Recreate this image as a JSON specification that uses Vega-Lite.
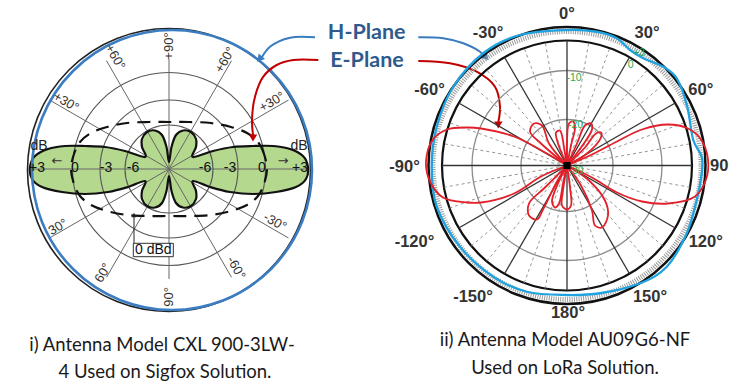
{
"$schema":"https://vega.github.io/schema/vega-lite/v6.json",
"width":730,"height":386,"autosize":"none","padding":0,"background":"#ffffff",
"config":{"view":{"stroke":null}},
"datasets":{
"green":[{"i":1,"x":1.39,"y":0.02},{"i":2,"x":1.34,"y":0.13},{"i":3,"x":1.21,"y":0.2},{"i":4,"x":1.04,"y":0.23},{"i":5,"x":0.84,"y":0.23},{"i":6,"x":0.64,"y":0.22},{"i":7,"x":0.44,"y":0.18},{"i":8,"x":0.24,"y":0.12},{"i":9,"x":0.27,"y":0.22},{"i":10,"x":0.27,"y":0.3},{"i":11,"x":0.22,"y":0.37},{"i":12,"x":0.14,"y":0.385},{"i":13,"x":0.07,"y":0.34},{"i":14,"x":0.025,"y":0.22},{"i":15,"x":0,"y":0.07},{"i":16,"x":-0.025,"y":0.22},{"i":17,"x":-0.07,"y":0.34},{"i":18,"x":-0.14,"y":0.385},{"i":19,"x":-0.22,"y":0.37},{"i":20,"x":-0.27,"y":0.3},{"i":21,"x":-0.27,"y":0.22},{"i":22,"x":-0.24,"y":0.12},{"i":23,"x":-0.44,"y":0.18},{"i":24,"x":-0.64,"y":0.22},{"i":25,"x":-0.84,"y":0.23},{"i":26,"x":-1.04,"y":0.23},{"i":27,"x":-1.21,"y":0.2},{"i":28,"x":-1.34,"y":0.13},{"i":29,"x":-1.39,"y":0.02},{"i":30,"x":-1.37,"y":-0.1},{"i":31,"x":-1.27,"y":-0.18},{"i":32,"x":-1.07,"y":-0.23},{"i":33,"x":-0.84,"y":-0.25},{"i":34,"x":-0.61,"y":-0.23},{"i":35,"x":-0.41,"y":-0.18},{"i":36,"x":-0.24,"y":-0.12},{"i":37,"x":-0.27,"y":-0.22},{"i":38,"x":-0.27,"y":-0.3},{"i":39,"x":-0.22,"y":-0.37},{"i":40,"x":-0.14,"y":-0.385},{"i":41,"x":-0.07,"y":-0.34},{"i":42,"x":-0.025,"y":-0.22},{"i":43,"x":0,"y":-0.07},{"i":44,"x":0.025,"y":-0.22},{"i":45,"x":0.07,"y":-0.34},{"i":46,"x":0.14,"y":-0.385},{"i":47,"x":0.22,"y":-0.37},{"i":48,"x":0.27,"y":-0.3},{"i":49,"x":0.27,"y":-0.22},{"i":50,"x":0.24,"y":-0.12},{"i":51,"x":0.41,"y":-0.18},{"i":52,"x":0.61,"y":-0.23},{"i":53,"x":0.84,"y":-0.25},{"i":54,"x":1.07,"y":-0.23},{"i":55,"x":1.27,"y":-0.18},{"i":56,"x":1.37,"y":-0.1}],
"dashed":[{"i":1,"x":0.98,"y":0},{"i":2,"x":0.95,"y":0.15},{"i":3,"x":0.89,"y":0.27},{"i":4,"x":0.78,"y":0.36},{"i":5,"x":0.62,"y":0.42},{"i":6,"x":0.42,"y":0.46},{"i":7,"x":0.2,"y":0.47},{"i":8,"x":0,"y":0.47},{"i":9,"x":-0.2,"y":0.47},{"i":10,"x":-0.42,"y":0.46},{"i":11,"x":-0.62,"y":0.42},{"i":12,"x":-0.78,"y":0.36},{"i":13,"x":-0.89,"y":0.27},{"i":14,"x":-0.95,"y":0.15},{"i":15,"x":-0.98,"y":0},{"i":16,"x":-0.95,"y":-0.15},{"i":17,"x":-0.89,"y":-0.27},{"i":18,"x":-0.78,"y":-0.36},{"i":19,"x":-0.62,"y":-0.42},{"i":20,"x":-0.42,"y":-0.46},{"i":21,"x":-0.2,"y":-0.47},{"i":22,"x":0,"y":-0.47},{"i":23,"x":0.2,"y":-0.47},{"i":24,"x":0.42,"y":-0.46},{"i":25,"x":0.62,"y":-0.42},{"i":26,"x":0.78,"y":-0.36},{"i":27,"x":0.89,"y":-0.27},{"i":28,"x":0.95,"y":-0.15}],
"hplane":[{"i":1,"x":0,"y":1.084},{"i":2,"x":0.238,"y":1.07},{"i":3,"x":0.398,"y":1.018},{"i":4,"x":0.504,"y":0.924},{"i":5,"x":0.61,"y":0.858},{"i":6,"x":0.77,"y":0.79},{"i":7,"x":0.878,"y":0.698},{"i":8,"x":0.96,"y":0.48},{"i":9,"x":1.01,"y":0.204},{"i":10,"x":1.078,"y":0.07},{"i":11,"x":1.078,"y":-0.062},{"i":12,"x":1.038,"y":-0.276},{"i":13,"x":0.958,"y":-0.542},{"i":14,"x":0.798,"y":-0.81},{"i":15,"x":0.584,"y":-0.942},{"i":16,"x":0.264,"y":-1.022},{"i":17,"x":-0.01,"y":-1.036},{"i":18,"x":-0.322,"y":-1.01},{"i":19,"x":-0.59,"y":-0.89},{"i":20,"x":-0.856,"y":-0.65},{"i":21,"x":-1.042,"y":-0.33},{"i":22,"x":-1.082,"y":-0.01},{"i":23,"x":-1.042,"y":0.31},{"i":24,"x":-0.91,"y":0.63},{"i":25,"x":-0.67,"y":0.898},{"i":26,"x":-0.376,"y":1.044}],
"eplane":[
{"p":"R","i":1,"x":0,"y":0},{"p":"R","i":2,"x":0.2,"y":0.088},{"p":"R","i":3,"x":0.4,"y":0.192},{"p":"R","i":4,"x":0.6,"y":0.288},{"p":"R","i":5,"x":0.808,"y":0.328},{"p":"R","i":6,"x":0.968,"y":0.296},{"p":"R","i":7,"x":1.072,"y":0.208},{"p":"R","i":8,"x":1.128,"y":0.048},{"p":"R","i":9,"x":1.112,"y":-0.112},{"p":"R","i":10,"x":1.024,"y":-0.248},{"p":"R","i":11,"x":0.808,"y":-0.304},{"p":"R","i":12,"x":0.6,"y":-0.288},{"p":"R","i":13,"x":0.4,"y":-0.216},{"p":"R","i":14,"x":0.2,"y":-0.096},{"p":"R","i":15,"x":0,"y":0},
{"p":"L","i":1,"x":0,"y":0},{"p":"L","i":2,"x":-0.16,"y":0.096},{"p":"L","i":3,"x":-0.424,"y":0.232},{"p":"L","i":4,"x":-0.688,"y":0.296},{"p":"L","i":5,"x":-0.8,"y":0.304},{"p":"L","i":6,"x":-0.96,"y":0.288},{"p":"L","i":7,"x":-1.072,"y":0.208},{"p":"L","i":8,"x":-1.128,"y":0.032},{"p":"L","i":9,"x":-1.096,"y":-0.128},{"p":"L","i":10,"x":-0.992,"y":-0.256},{"p":"L","i":11,"x":-0.8,"y":-0.296},{"p":"L","i":12,"x":-0.688,"y":-0.296},{"p":"L","i":13,"x":-0.424,"y":-0.224},{"p":"L","i":14,"x":-0.208,"y":-0.088},{"p":"L","i":15,"x":0,"y":0},
{"p":"U1","i":1,"x":0,"y":0},{"p":"U1","i":2,"x":-0.208,"y":0.176},{"p":"U1","i":3,"x":-0.296,"y":0.272},{"p":"U1","i":4,"x":-0.264,"y":0.336},{"p":"U1","i":5,"x":-0.2,"y":0.32},{"p":"U1","i":6,"x":-0.144,"y":0.176},{"p":"U1","i":7,"x":0,"y":0},
{"p":"U2","i":1,"x":0,"y":0},{"p":"U2","i":2,"x":-0.072,"y":0.176},{"p":"U2","i":3,"x":-0.088,"y":0.264},{"p":"U2","i":4,"x":-0.056,"y":0.28},{"p":"U2","i":5,"x":-0.04,"y":0.24},{"p":"U2","i":6,"x":-0.024,"y":0.144},{"p":"U2","i":7,"x":0,"y":0},
{"p":"U3","i":1,"x":0,"y":0},{"p":"U3","i":2,"x":0,"y":0.2},{"p":"U3","i":3,"x":0.016,"y":0.336},{"p":"U3","i":4,"x":0.048,"y":0.352},{"p":"U3","i":5,"x":0.064,"y":0.304},{"p":"U3","i":6,"x":0.032,"y":0.16},{"p":"U3","i":7,"x":0,"y":0},
{"p":"U4","i":1,"x":0,"y":0},{"p":"U4","i":2,"x":0.08,"y":0.176},{"p":"U4","i":3,"x":0.144,"y":0.32},{"p":"U4","i":4,"x":0.192,"y":0.336},{"p":"U4","i":5,"x":0.2,"y":0.288},{"p":"U4","i":6,"x":0.112,"y":0.144},{"p":"U4","i":7,"x":0,"y":0},
{"p":"U5","i":1,"x":0,"y":0},{"p":"U5","i":2,"x":0.144,"y":0.144},{"p":"U5","i":3,"x":0.232,"y":0.256},{"p":"U5","i":4,"x":0.272,"y":0.264},{"p":"U5","i":5,"x":0.272,"y":0.224},{"p":"U5","i":6,"x":0.16,"y":0.096},{"p":"U5","i":7,"x":0,"y":0},
{"p":"D1","i":1,"x":0,"y":0},{"p":"D1","i":2,"x":-0.176,"y":-0.176},{"p":"D1","i":3,"x":-0.304,"y":-0.304},{"p":"D1","i":4,"x":-0.304,"y":-0.4},{"p":"D1","i":5,"x":-0.24,"y":-0.432},{"p":"D1","i":6,"x":-0.192,"y":-0.352},{"p":"D1","i":7,"x":-0.08,"y":-0.128},{"p":"D1","i":8,"x":0,"y":0},
{"p":"D2","i":1,"x":0,"y":0},{"p":"D2","i":2,"x":-0.072,"y":-0.144},{"p":"D2","i":3,"x":-0.12,"y":-0.288},{"p":"D2","i":4,"x":-0.096,"y":-0.336},{"p":"D2","i":5,"x":-0.064,"y":-0.304},{"p":"D2","i":6,"x":-0.032,"y":-0.144},{"p":"D2","i":7,"x":0,"y":0},
{"p":"D3","i":1,"x":0,"y":0},{"p":"D3","i":2,"x":-0.032,"y":-0.2},{"p":"D3","i":3,"x":-0.04,"y":-0.32},{"p":"D3","i":4,"x":0,"y":-0.352},{"p":"D3","i":5,"x":0.032,"y":-0.32},{"p":"D3","i":6,"x":0.024,"y":-0.176},{"p":"D3","i":7,"x":0,"y":0},
{"p":"D4","i":1,"x":0,"y":0},{"p":"D4","i":2,"x":0.112,"y":-0.16},{"p":"D4","i":3,"x":0.2,"y":-0.36},{"p":"D4","i":4,"x":0.224,"y":-0.48},{"p":"D4","i":5,"x":0.28,"y":-0.496},{"p":"D4","i":6,"x":0.328,"y":-0.4},{"p":"D4","i":7,"x":0.304,"y":-0.28},{"p":"D4","i":8,"x":0.176,"y":-0.12},{"p":"D4","i":9,"x":0,"y":0}
]
},
"resolve":{"scale":{"x":"independent","y":"independent","size":"independent"}},
"layer":[
{"layer":[
{"data":{"name":"green"},"mark":{"type":"line","interpolate":"cardinal-closed","fill":"#b5d88f","strokeWidth":0},"encoding":{"x":{"field":"x","type":"quantitative","scale":{"domain":[-1.69,5.61],"nice":false,"zero":false},"axis":null},"y":{"field":"y","type":"quantitative","scale":{"domain":[-2.17,1.69],"nice":false,"zero":false},"axis":null},"order":{"field":"i","type":"quantitative"}}},
{"data":{"values":[{"x":0,"y":0,"r":0.44},{"x":0,"y":0,"r":0.69},{"x":0,"y":0,"r":0.965}]},"mark":{"type":"point","shape":"circle","filled":false,"color":"#555555","strokeWidth":1.1,"opacity":1},"encoding":{"x":{"field":"x","type":"quantitative"},"y":{"field":"y","type":"quantitative"},"size":{"field":"r","type":"quantitative","scale":{"type":"pow","exponent":2,"domain":[0,2],"range":[0,160000]},"legend":null}}},
{"data":{"values":[{"x":-1.38,"y":0,"x2":1.38,"y2":0},{"x":0,"y":-1.1,"x2":0,"y2":1.1},{"x":-1.195,"y":-0.69,"x2":1.195,"y2":0.69},{"x":-1.195,"y":0.69,"x2":1.195,"y2":-0.69},{"x":-0.625,"y":-1.083,"x2":0.625,"y2":1.083},{"x":-0.625,"y":1.083,"x2":0.625,"y2":-1.083}]},"mark":{"type":"rule","color":"#666666","strokeWidth":1},"encoding":{"x":{"field":"x","type":"quantitative"},"y":{"field":"y","type":"quantitative"},"x2":{"field":"x2"},"y2":{"field":"y2"}}},
{"data":{"name":"green"},"mark":{"type":"line","interpolate":"cardinal-closed","color":"#111111","strokeWidth":2.2},"encoding":{"x":{"field":"x","type":"quantitative"},"y":{"field":"y","type":"quantitative"},"order":{"field":"i","type":"quantitative"}}},
{"data":{"name":"dashed"},"mark":{"type":"line","interpolate":"cardinal-closed","color":"#111111","strokeWidth":2.2,"strokeDash":[13,8]},"encoding":{"x":{"field":"x","type":"quantitative"},"y":{"field":"y","type":"quantitative"},"order":{"field":"i","type":"quantitative"}}},
{"data":{"values":[{"x":0,"y":-0.01,"r":1.415}]},"mark":{"type":"point","shape":"circle","filled":false,"color":"#222222","strokeWidth":1.6,"opacity":1},"encoding":{"x":{"field":"x","type":"quantitative"},"y":{"field":"y","type":"quantitative"},"size":{"field":"r","type":"quantitative"}}},
{"data":{"values":[{"x":0.03,"y":-0.01,"r":1.4}]},"mark":{"type":"point","shape":"circle","filled":false,"color":"#3b7dc0","strokeWidth":2.6,"opacity":1},"encoding":{"x":{"field":"x","type":"quantitative"},"y":{"field":"y","type":"quantitative"},"size":{"field":"r","type":"quantitative"}}},
{"data":{"values":[{"t":"+3","x":-1.32,"y":0.01},{"t":"0","x":-0.94,"y":0.01},{"t":"-3","x":-0.63,"y":0.01},{"t":"-6","x":-0.36,"y":0.01},{"t":"-6","x":0.36,"y":0.01},{"t":"-3","x":0.61,"y":0.01},{"t":"0","x":0.93,"y":0.01},{"t":"+3","x":1.31,"y":0.01}]},"mark":{"type":"text","font":"Liberation Sans","fontSize":14,"color":"#111111","baseline":"middle"},"encoding":{"x":{"field":"x","type":"quantitative"},"y":{"field":"y","type":"quantitative"},"text":{"field":"t"}}},
{"data":{"values":[{"t":"dB","x":-1.3,"y":0.23},{"t":"dB","x":1.3,"y":0.23}]},"mark":{"type":"text","font":"Liberation Sans","fontSize":14,"color":"#222222","baseline":"middle"},"encoding":{"x":{"field":"x","type":"quantitative"},"y":{"field":"y","type":"quantitative"},"text":{"field":"t"}}},
{"data":{"values":[{"t":"←","x":-1.12,"y":0.08},{"t":"→","x":1.14,"y":0.08}]},"mark":{"type":"text","font":"DejaVu Sans","fontSize":13,"color":"#333333","baseline":"middle"},"encoding":{"x":{"field":"x","type":"quantitative"},"y":{"field":"y","type":"quantitative"},"text":{"field":"t"}}},
{"data":{"values":[{"t":"+90°","x":0,"y":1.23},{"t":"90°","x":0,"y":-1.28}]},"mark":{"type":"text","font":"Liberation Sans","fontSize":13,"color":"#333333","baseline":"middle","angle":270},"encoding":{"x":{"field":"x","type":"quantitative"},"y":{"field":"y","type":"quantitative"},"text":{"field":"t"}}},
{"data":{"values":[{"t":"+60°","x":-0.54,"y":1.12},{"t":"-60°","x":0.67,"y":-0.99}]},"mark":{"type":"text","font":"Liberation Sans","fontSize":13,"color":"#333333","baseline":"middle","angle":60},"encoding":{"x":{"field":"x","type":"quantitative"},"y":{"field":"y","type":"quantitative"},"text":{"field":"t"}}},
{"data":{"values":[{"t":"+60°","x":0.56,"y":1.09},{"t":"60°","x":-0.66,"y":-1.04}]},"mark":{"type":"text","font":"Liberation Sans","fontSize":13,"color":"#333333","baseline":"middle","angle":300},"encoding":{"x":{"field":"x","type":"quantitative"},"y":{"field":"y","type":"quantitative"},"text":{"field":"t"}}},
{"data":{"values":[{"t":"+30°","x":-1.03,"y":0.67},{"t":"-30°","x":1.06,"y":-0.53}]},"mark":{"type":"text","font":"Liberation Sans","fontSize":13,"color":"#333333","baseline":"middle","angle":30},"encoding":{"x":{"field":"x","type":"quantitative"},"y":{"field":"y","type":"quantitative"},"text":{"field":"t"}}},
{"data":{"values":[{"t":"+30°","x":1.03,"y":0.67},{"t":"30°","x":-1.11,"y":-0.58}]},"mark":{"type":"text","font":"Liberation Sans","fontSize":13,"color":"#333333","baseline":"middle","angle":330},"encoding":{"x":{"field":"x","type":"quantitative"},"y":{"field":"y","type":"quantitative"},"text":{"field":"t"}}},
{"data":{"values":[{"x":-0.357,"x2":0.043,"y":-0.743,"y2":-0.877}]},"mark":{"type":"rect","fill":"#ffffff","stroke":"#333333","strokeWidth":1},"encoding":{"x":{"field":"x","type":"quantitative"},"y":{"field":"y","type":"quantitative"},"x2":{"field":"x2"},"y2":{"field":"y2"}}},
{"data":{"values":[{"t":"0 dBd","x":-0.157,"y":-0.81}]},"mark":{"type":"text","font":"Liberation Sans","fontSize":14,"color":"#111111","baseline":"middle"},"encoding":{"x":{"field":"x","type":"quantitative"},"y":{"field":"y","type":"quantitative"},"text":{"field":"t"}}},
{"data":{"values":[{"x":-0.35,"y":-0.743,"x2":-0.35,"y2":-0.47}]},"mark":{"type":"rule","color":"#222222","strokeWidth":1},"encoding":{"x":{"field":"x","type":"quantitative"},"y":{"field":"y","type":"quantitative"},"x2":{"field":"x2"},"y2":{"field":"y2"}}},
{"data":{"values":[{"x":-0.35,"y":-0.46}]},"mark":{"type":"point","shape":"triangle-up","filled":true,"color":"#222222","size":25,"opacity":1},"encoding":{"x":{"field":"x","type":"quantitative"},"y":{"field":"y","type":"quantitative"}}},
{"data":{"values":[{"t":"H-Plane","x":1.977,"y":1.36},{"t":"E-Plane","x":1.98,"y":1.08}]},"mark":{"type":"text","font":"Lato","fontWeight":"bold","fontSize":21.5,"color":"#2f5b8c","baseline":"middle"},"encoding":{"x":{"field":"x","type":"quantitative"},"y":{"field":"y","type":"quantitative"},"text":{"field":"t"}}},
{"data":{"values":[{"p":"a","i":1,"x":1.46,"y":1.317},{"p":"a","i":2,"x":1.21,"y":1.313},{"p":"a","i":3,"x":1.01,"y":1.223},{"p":"a","i":4,"x":0.93,"y":1.12},{"p":"b","i":1,"x":2.493,"y":1.317},{"p":"b","i":2,"x":2.743,"y":1.307},{"p":"b","i":3,"x":2.943,"y":1.257},{"p":"b","i":4,"x":3.11,"y":1.173},{"p":"b","i":5,"x":3.15,"y":1.135}]},"mark":{"type":"line","interpolate":"catmull-rom","color":"#3a7cc0","strokeWidth":2},"encoding":{"x":{"field":"x","type":"quantitative"},"y":{"field":"y","type":"quantitative"},"detail":{"field":"p"},"order":{"field":"i","type":"quantitative"}}},
{"data":{"values":[{"p":"a","i":1,"x":1.493,"y":1.09},{"p":"a","i":2,"x":1.243,"y":1.09},{"p":"a","i":3,"x":1.077,"y":1.04},{"p":"a","i":4,"x":0.943,"y":0.923},{"p":"a","i":5,"x":0.86,"y":0.723},{"p":"a","i":6,"x":0.83,"y":0.49},{"p":"a","i":7,"x":0.84,"y":0.34},{"p":"b","i":1,"x":2.493,"y":1.08},{"p":"b","i":2,"x":2.81,"y":1.057},{"p":"b","i":3,"x":3.077,"y":0.973},{"p":"b","i":4,"x":3.26,"y":0.823},{"p":"b","i":5,"x":3.31,"y":0.62},{"p":"b","i":6,"x":3.293,"y":0.47}]},"mark":{"type":"line","interpolate":"catmull-rom","color":"#c00000","strokeWidth":2},"encoding":{"x":{"field":"x","type":"quantitative"},"y":{"field":"y","type":"quantitative"},"detail":{"field":"p"},"order":{"field":"i","type":"quantitative"}}},
{"data":{"values":[{"x":0.84,"y":0.31},{"x":3.293,"y":0.44}]},"mark":{"type":"point","shape":"triangle-down","filled":true,"color":"#c00000","size":70,"opacity":1},"encoding":{"x":{"field":"x","type":"quantitative"},"y":{"field":"y","type":"quantitative"}}},
{"data":{"values":[{"x":0.905,"y":1.1}]},"mark":{"type":"point","shape":"triangle-down","filled":true,"color":"#3a7cc0","size":70,"opacity":1,"angle":40},"encoding":{"x":{"field":"x","type":"quantitative"},"y":{"field":"y","type":"quantitative"}}},
{"data":{"values":[{"x":3.17,"y":1.115}]},"mark":{"type":"point","shape":"triangle-down","filled":true,"color":"#3a7cc0","size":70,"opacity":1,"angle":315},"encoding":{"x":{"field":"x","type":"quantitative"},"y":{"field":"y","type":"quantitative"}}},
{"data":{"values":[{"t":"i) Antenna Model CXL 900-3LW-","x":-0.07,"y":-1.76},{"t":"4 Used on Sigfox Solution.","x":-0.04,"y":-2.03},{"t":"ii) Antenna Model  AU09G6-NF","x":3.96,"y":-1.71},{"t":"Used on LoRa Solution.","x":3.96,"y":-1.99}]},"mark":{"type":"text","font":"Lato","fontSize":18.5,"color":"#1a1a1a","baseline":"middle"},"encoding":{"x":{"field":"x","type":"quantitative"},"y":{"field":"y","type":"quantitative"},"text":{"field":"t"}}}
]},
{"layer":[
{"data":{"values":[{"x":0,"y":0,"r":1.072}]},"mark":{"type":"point","shape":"circle","filled":false,"color":"#9a9a9a","strokeWidth":5,"strokeDash":[1,1.3],"opacity":1},"encoding":{"x":{"field":"x","type":"quantitative","scale":{"domain":[-4.536,1.304],"nice":false,"zero":false},"axis":null},"y":{"field":"y","type":"quantitative","scale":{"domain":[-1.764,1.324],"nice":false,"zero":false},"axis":null},"size":{"field":"r","type":"quantitative","scale":{"type":"pow","exponent":2,"domain":[0,2],"range":[0,250000]},"legend":null}}},
{"data":{"values":[{"x":0,"y":0,"r":1.108}]},"mark":{"type":"point","shape":"circle","filled":false,"color":"#111111","strokeWidth":2.5,"opacity":1},"encoding":{"x":{"field":"x","type":"quantitative"},"y":{"field":"y","type":"quantitative"},"size":{"field":"r","type":"quantitative"}}},
{"data":{"values":[{"x":0,"y":0,"r":1.0}]},"mark":{"type":"point","shape":"circle","filled":false,"color":"#111111","strokeWidth":2.2,"opacity":1},"encoding":{"x":{"field":"x","type":"quantitative"},"y":{"field":"y","type":"quantitative"},"size":{"field":"r","type":"quantitative"}}},
{"data":{"values":[{"x":0,"y":0,"r":0.76},{"x":0,"y":0,"r":0.368}]},"mark":{"type":"point","shape":"circle","filled":false,"color":"#8c8c8c","strokeWidth":1.3,"opacity":1},"encoding":{"x":{"field":"x","type":"quantitative"},"y":{"field":"y","type":"quantitative"},"size":{"field":"r","type":"quantitative"}}},
{"data":{"values":[{"x":-0.985,"y":-0.174,"x2":0.985,"y2":0.174},{"x":-0.94,"y":-0.342,"x2":0.94,"y2":0.342},{"x":-0.766,"y":-0.643,"x2":0.766,"y2":0.643},{"x":-0.643,"y":-0.766,"x2":0.643,"y2":0.766},{"x":-0.342,"y":-0.94,"x2":0.342,"y2":0.94},{"x":-0.174,"y":-0.985,"x2":0.174,"y2":0.985},{"x":0.174,"y":-0.985,"x2":-0.174,"y2":0.985},{"x":0.342,"y":-0.94,"x2":-0.342,"y2":0.94},{"x":0.643,"y":-0.766,"x2":-0.643,"y2":0.766},{"x":0.766,"y":-0.643,"x2":-0.766,"y2":0.643},{"x":0.94,"y":-0.342,"x2":-0.94,"y2":0.342},{"x":0.985,"y":-0.174,"x2":-0.985,"y2":0.174}]},"mark":{"type":"rule","color":"#8a8a8a","strokeWidth":0.9,"strokeDash":[3,3]},"encoding":{"x":{"field":"x","type":"quantitative"},"y":{"field":"y","type":"quantitative"},"x2":{"field":"x2"},"y2":{"field":"y2"}}},
{"data":{"values":[{"x":-1,"y":0,"x2":1,"y2":0},{"x":0,"y":-1,"x2":0,"y2":1},{"x":-0.866,"y":-0.5,"x2":0.866,"y2":0.5},{"x":-0.866,"y":0.5,"x2":0.866,"y2":-0.5},{"x":-0.5,"y":-0.866,"x2":0.5,"y2":0.866},{"x":-0.5,"y":0.866,"x2":0.5,"y2":-0.866}]},"mark":{"type":"rule","color":"#333333","strokeWidth":1.3},"encoding":{"x":{"field":"x","type":"quantitative"},"y":{"field":"y","type":"quantitative"},"x2":{"field":"x2"},"y2":{"field":"y2"}}},
{"data":{"name":"hplane"},"mark":{"type":"line","interpolate":"cardinal-closed","color":"#1fa3e0","strokeWidth":2.3},"encoding":{"x":{"field":"x","type":"quantitative"},"y":{"field":"y","type":"quantitative"},"order":{"field":"i","type":"quantitative"}}},
{"data":{"name":"eplane"},"mark":{"type":"line","interpolate":"catmull-rom","color":"#e3202a","strokeWidth":1.8},"encoding":{"x":{"field":"x","type":"quantitative"},"y":{"field":"y","type":"quantitative"},"detail":{"field":"p"},"order":{"field":"i","type":"quantitative"}}},
{"data":{"values":[{"x":0,"y":0}]},"mark":{"type":"point","shape":"square","filled":true,"color":"#000000","size":50,"opacity":1},"encoding":{"x":{"field":"x","type":"quantitative"},"y":{"field":"y","type":"quantitative"}}},
{"data":{"values":[{"t":"0°","x":0,"y":1.215},{"t":"30°","x":0.64,"y":1.06},{"t":"-30°","x":-0.632,"y":1.06},{"t":"60°","x":1.07,"y":0.604},{"t":"-60°","x":-1.1,"y":0.604},{"t":"-90°","x":-1.3,"y":-0.012},{"t":"120°","x":1.11,"y":-0.612},{"t":"-120°","x":-1.22,"y":-0.612},{"t":"150°","x":0.664,"y":-1.052},{"t":"-150°","x":-0.752,"y":-1.052},{"t":"180°","x":0.008,"y":-1.18}]},"mark":{"type":"text","font":"Liberation Sans","fontWeight":"bold","fontSize":16.5,"color":"#333333","baseline":"middle"},"encoding":{"x":{"field":"x","type":"quantitative"},"y":{"field":"y","type":"quantitative"},"text":{"field":"t"}}},
{"data":{"values":[{"t":"90","x":1.144,"y":-0.004}]},"mark":{"type":"text","font":"Liberation Sans","fontWeight":"bold","fontSize":16.5,"color":"#333333","baseline":"middle","align":"left"},"encoding":{"x":{"field":"x","type":"quantitative"},"y":{"field":"y","type":"quantitative"},"text":{"field":"t"}}},
{"data":{"values":[{"t":"+3","x":0.576,"y":0.902},{"t":"0","x":0.51,"y":0.806},{"t":"-10","x":0.056,"y":0.698},{"t":"-20","x":0.068,"y":0.324},{"t":"-30","x":0.072,"y":-0.04}]},"mark":{"type":"text","font":"Liberation Sans","fontSize":10.5,"color":"#2eaa4a","baseline":"middle"},"encoding":{"x":{"field":"x","type":"quantitative"},"y":{"field":"y","type":"quantitative"},"text":{"field":"t"}}}
]}
]
}
